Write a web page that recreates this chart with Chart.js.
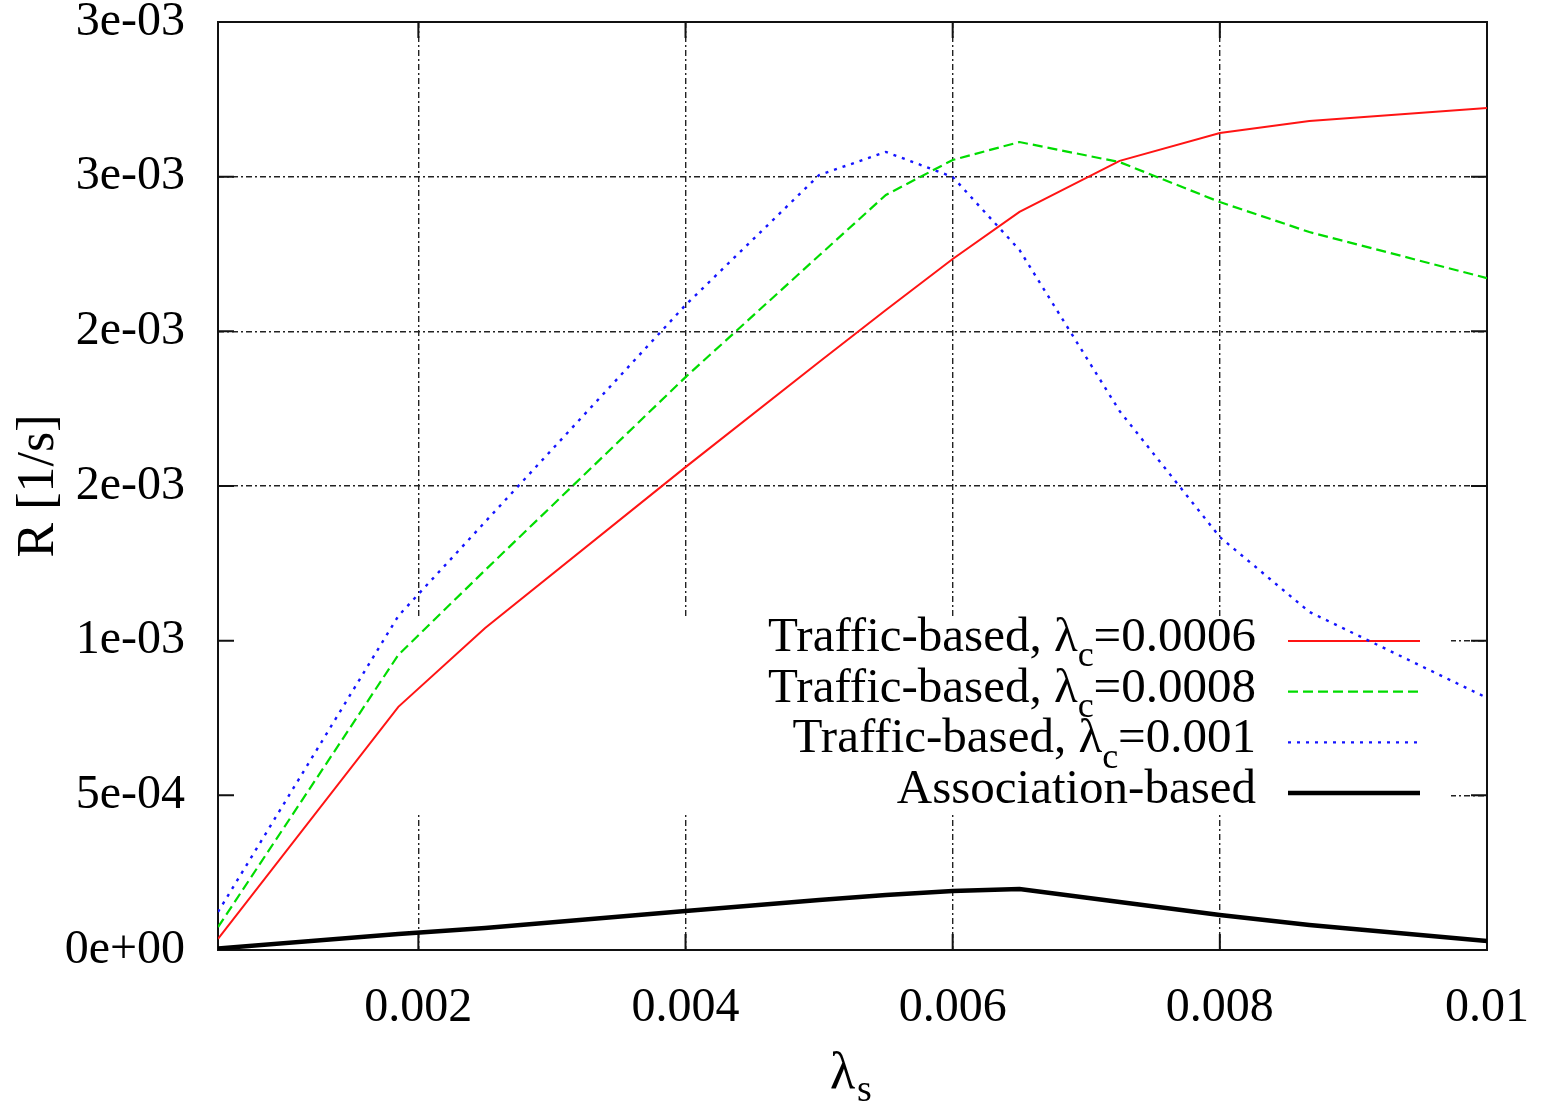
<!DOCTYPE html>
<html>
<head>
    <title>R vs lambda_s</title>
    <style>
        body { margin: 0; background: #fff; }
        #wrap { width: 1541px; height: 1104px; }
    </style>
</head>
<body>
<div id="wrap"><canvas id="chart"></canvas></div>

<script src="https://cdn.jsdelivr.net/npm/chart.js"></script>
<script>
    // values
    const lambdaS = [0.0005, 0.00185, 0.0025, 0.004, 0.005, 0.0055, 0.006, 0.0065, 0.00725, 0.008, 0.00867, 0.01];
    const traffic0006 = [0.000036, 0.000786, 0.001041, 0.001561, 0.001901, 0.002069, 0.002234, 0.002386, 0.002551, 0.002641, 0.00268, 0.002722];
    const traffic0008 = [0.000074, 0.000954, 0.001228, 0.001852, 0.002245, 0.002441, 0.002554, 0.002612, 0.002547, 0.002418, 0.002321, 0.002172];
    const traffic001 = [0.000123, 0.00108, 0.001384, 0.002085, 0.002505, 0.00258, 0.002499, 0.002263, 0.001742, 0.001335, 0.001093, 0.000815];
    const association = [0.000005, 0.000052, 0.000071, 0.000126, 0.000162, 0.000178, 0.000191, 0.000197, 0.000155, 0.000113, 0.000081, 0.000029];

    const xTicks = [0.002, 0.004, 0.006, 0.008, 0.01];
    const xTickLabels = ['0.002', '0.004', '0.006', '0.008', '0.01'];
    const yTicks = [0, 0.0005, 0.001, 0.0015, 0.002, 0.0025, 0.003];
    const yTickLabels = ['0e+00', '5e-04', '1e-03', '2e-03', '2e-03', '3e-03', '3e-03'];

    const legendItems = [
        {main: 'Traffic-based, λ', sub: 'c', rest: '=0.0006'},
        {main: 'Traffic-based, λ', sub: 'c', rest: '=0.0008'},
        {main: 'Traffic-based, λ', sub: 'c', rest: '=0.001'},
        {main: 'Association-based', sub: '', rest: ''},
    ];

    const FONT = '"Liberation Serif", "Times New Roman", serif';

    function pts(ys) {
        return lambdaS.map((x, i) => ({x: x, y: ys[i]}));
    }

    const datasets = [
        {label: 'Traffic-based, λc=0.0006', data: pts(traffic0006), borderColor: 'rgb(255,20,20)', borderWidth: 2, borderDash: []},
        {label: 'Traffic-based, λc=0.0008', data: pts(traffic0008), borderColor: 'rgb(0,220,0)', borderWidth: 2.2, borderDash: [10, 5]},
        {label: 'Traffic-based, λc=0.001', data: pts(traffic001), borderColor: 'rgb(20,20,255)', borderWidth: 2.4, borderDash: [3, 6]},
        {label: 'Association-based', data: pts(association), borderColor: '#000', borderWidth: 4.5, borderDash: []},
    ];
    datasets.forEach(d => { d.pointRadius = 0; d.fill = false; d.tension = 0; });

    const gnuplotFrame = {
        id: 'gnuplotFrame',
        beforeDatasetsDraw(chart) {
            const {ctx, chartArea: a, scales} = chart;
            ctx.save();
            // opaque key area hides the grid
            ctx.fillStyle = '#fff';
            ctx.fillRect(a.left + 1, 617, 1450 - a.left, 198);

            // inward ticks on all four sides
            ctx.strokeStyle = '#111';
            ctx.lineWidth = 2;
            ctx.beginPath();
            yTicks.forEach(v => {
                const y = scales.y.getPixelForValue(v);
                ctx.moveTo(a.left, y); ctx.lineTo(a.left + 16, y);
                ctx.moveTo(a.right, y); ctx.lineTo(a.right - 16, y);
            });
            xTicks.forEach(v => {
                const x = scales.x.getPixelForValue(v);
                ctx.moveTo(x, a.bottom); ctx.lineTo(x, a.bottom - 16);
                ctx.moveTo(x, a.top); ctx.lineTo(x, a.top + 16);
            });
            ctx.stroke();
            ctx.strokeRect(a.left, a.top, a.right - a.left, a.bottom - a.top);

            // key
            ctx.fillStyle = '#000';
            ctx.textBaseline = 'middle';
            ctx.textAlign = 'left';
            const textRight = 1256, lineL = 1288, lineR = 1420;
            legendItems.forEach((it, i) => {
                const y = 641 + i * 50.7;
                ctx.font = '49px ' + FONT;
                const w1 = ctx.measureText(it.main).width;
                const w3 = ctx.measureText(it.rest).width;
                ctx.font = '36px ' + FONT;
                const w2 = ctx.measureText(it.sub).width;
                let x = textRight - (w1 + w2 + w3);
                ctx.font = '49px ' + FONT;
                ctx.fillText(it.main, x, y - 3);
                x += w1;
                ctx.font = '36px ' + FONT;
                ctx.fillText(it.sub, x, y + 16);
                x += w2;
                ctx.font = '49px ' + FONT;
                ctx.fillText(it.rest, x, y - 3);

                const ds = datasets[i];
                ctx.save();
                ctx.strokeStyle = ds.borderColor;
                ctx.lineWidth = ds.borderWidth;
                ctx.setLineDash(ds.borderDash);
                ctx.beginPath();
                ctx.moveTo(lineL, y);
                ctx.lineTo(lineR, y);
                ctx.stroke();
                ctx.restore();
            });
            ctx.restore();
        },
        afterDraw(chart) {
            const {ctx, chartArea: a} = chart;
            ctx.save();
            ctx.fillStyle = '#000';
            ctx.textBaseline = 'alphabetic';
            ctx.textAlign = 'left';
            ctx.font = '52px ' + FONT;
            ctx.fillText('λ', 830, 1088);
            ctx.font = '38px ' + FONT;
            ctx.fillText('s', 857, 1101);
            ctx.restore();
        }
    };

    new Chart(document.getElementById('chart'), {
        type: 'line',
        data: {datasets: datasets},
        options: {
            responsive: true,
            maintainAspectRatio: false,
            animation: false,
            layout: {padding: {left: 0, top: 22, right: 54, bottom: 0}},
            plugins: {legend: {display: false}, tooltip: {enabled: false}},
            scales: {
                x: {
                    type: 'linear',
                    min: 0.0005,
                    max: 0.01,
                    afterBuildTicks: s => { s.ticks = xTicks.map(v => ({value: v})); },
                    afterFit: s => { s.height = 154; s.paddingLeft = 0; s.paddingRight = 0; },
                    grid: {color: '#222', lineWidth: 1.4, drawTicks: false},
                    border: {display: false, dash: [6, 3, 2, 3]},
                    ticks: {
                        padding: 30,
                        color: '#000',
                        font: {family: FONT, size: 48},
                        maxRotation: 0,
                        callback: (v, i) => xTickLabels[i]
                    }
                },
                y: {
                    min: 0,
                    max: 0.003,
                    afterBuildTicks: s => { s.ticks = yTicks.map(v => ({value: v})); },
                    afterFit: s => { s.width = 218; s.paddingTop = 0; s.paddingBottom = 0; },
                    grid: {color: '#222', lineWidth: 1.4, drawTicks: false},
                    border: {display: false, dash: [6, 3, 2, 3]},
                    title: {
                        display: true,
                        text: 'R [1/s]',
                        color: '#000',
                        font: {family: FONT, size: 52},
                        padding: {top: 8, bottom: 0}
                    },
                    ticks: {
                        padding: 33,
                        color: '#000',
                        font: {family: FONT, size: 48},
                        callback: (v, i) => yTickLabels[i]
                    }
                }
            }
        },
        plugins: [gnuplotFrame]
    });
</script>
</body>
</html>
